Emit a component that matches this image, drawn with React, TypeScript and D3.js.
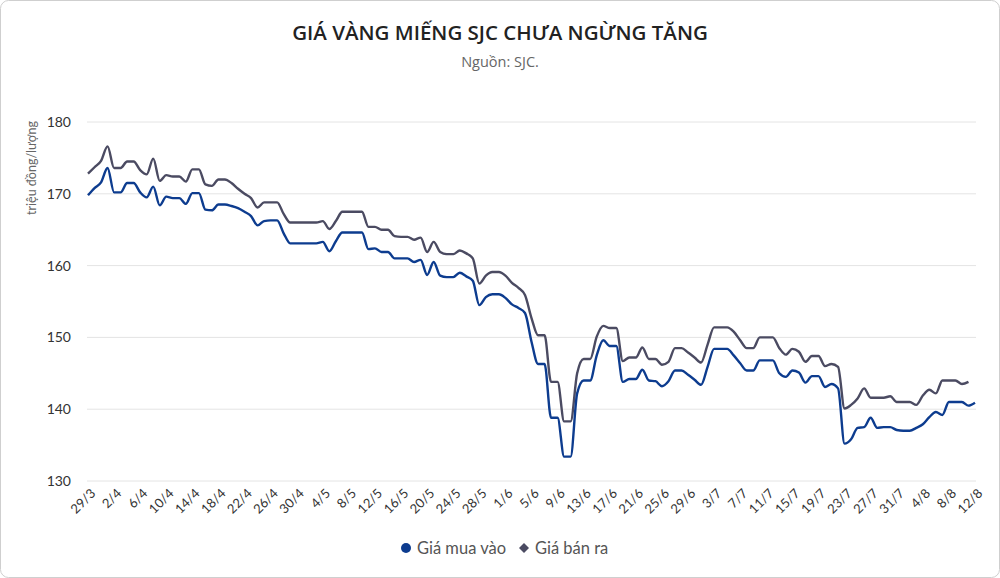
import * as d3 from 'd3';

// daily categories 29/3 → 12/8
const startDay = new Date(2025, 2, 29);
const endDay = new Date(2025, 7, 13);
const days = d3.timeDay.range(startDay, endDay).map((d) => `${d.getDate()}/${d.getMonth() + 1}`);

const tickLabels = [
  '29/3', '2/4', '6/4', '10/4', '14/4', '18/4', '22/4', '26/4', '30/4', '4/5', '8/5', '12/5',
  '16/5', '20/5', '24/5', '28/5', '1/6', '5/6', '9/6', '13/6', '17/6', '21/6', '25/6', '29/6',
  '3/7', '7/7', '11/7', '15/7', '19/7', '23/7', '27/7', '31/7', '4/8', '8/8', '12/8',
];

const yTicks = [130, 140, 150, 160, 170, 180];

// Giá mua vào (triệu đồng/lượng)
const buyPrices = [
  169.8, 170.8, 171.6, 173.6, 170.2, 170.2, 171.5, 171.5, 170.2, 169.5,
  171.0, 168.4, 169.6, 169.4, 169.4, 168.6, 170.1, 170.1, 167.8, 167.7,
  168.5, 168.5, 168.3, 168.0, 167.5, 166.9, 165.6, 166.2, 166.3, 166.3,
  164.5, 163.1, 163.1, 163.1, 163.1, 163.1, 163.3, 162.0, 163.4, 164.6,
  164.6, 164.6, 164.6, 162.3, 162.4, 161.9, 161.9, 161.0, 161.0, 161.0,
  160.5, 160.8, 158.7, 160.5, 158.6, 158.4, 158.4, 159.0, 158.5, 157.9,
  154.5, 155.6, 156.0, 156.0, 155.5, 154.6, 154.1, 153.4, 149.4, 146.3,
  146.3, 138.8, 138.8, 133.4, 133.4, 142.2, 144.0, 144.0, 147.5, 149.6,
  148.8, 148.8, 143.8, 144.2, 144.2, 145.5, 144.0, 143.9, 143.2, 143.9,
  145.4, 145.4, 144.8, 144.1, 143.4, 145.9, 148.4, 148.4, 148.4, 147.5,
  146.4, 145.4, 145.4, 146.8, 146.8, 146.8, 145.0, 144.5, 145.4, 145.1,
  143.7, 144.6, 144.6, 143.1, 143.5, 142.9, 135.2, 135.8, 137.4, 137.5,
  138.8, 137.4, 137.5, 137.5, 137.1, 137.0, 137.0, 137.4, 137.9, 138.9,
  139.6, 139.2, 141.0, 141.0, 141.0, 140.5, 140.9,
];

// Giá bán ra (triệu đồng/lượng)
const sellPrices = [
  172.8, 173.7, 174.6, 176.6, 173.6, 173.6, 174.5, 174.5, 173.3, 172.7,
  174.9, 171.8, 172.6, 172.4, 172.4, 171.7, 173.4, 173.4, 171.3, 171.1,
  172.0, 172.0, 171.5, 170.7, 170.0, 169.4, 168.1, 168.8, 168.8, 168.8,
  167.2, 166.0, 166.0, 166.0, 166.0, 166.0, 166.2, 165.1, 166.2, 167.5,
  167.5, 167.5, 167.5, 165.4, 165.4, 165.0, 165.0, 164.1, 164.0, 164.0,
  163.6, 163.9, 161.9, 163.3, 161.9, 161.6, 161.6, 162.1, 161.7, 161.0,
  157.5, 158.6, 159.1, 159.1, 158.6, 157.6, 156.9, 155.9, 152.7, 150.3,
  150.3, 143.8, 143.8, 138.3, 138.3, 145.0, 147.0, 147.0, 150.1, 151.6,
  151.3, 151.3, 146.7, 147.2, 147.2, 148.6, 147.0, 147.0, 146.2, 146.6,
  148.5, 148.5, 147.9, 147.2, 146.5, 149.0, 151.4, 151.4, 151.4, 150.8,
  149.6, 148.5, 148.5, 150.0, 150.0, 150.0, 148.5, 147.6, 148.4, 148.0,
  146.6, 147.4, 147.4, 146.0, 146.3, 145.9, 140.1, 140.6, 141.5, 142.9,
  141.6, 141.6, 141.6, 141.8, 141.0, 141.0, 141.0, 140.6, 141.9, 142.7,
  142.2, 144.0, 144.0, 144.0, 143.5, 143.8,
];

const BUY_COLOR = '#0d3c8f';
const SELL_COLOR = '#4b4b62';
const FONT = 'Lato, "Noto Sans", sans-serif';

export default function App() {
  const width = 1000;
  const height = 578;
  const plot = { left: 87, right: 976, top: 122, bottom: 481 };

  const x = d3.scalePoint<string>().domain(days).range([88, 975]);
  const y = d3.scaleLinear().domain([130, 180]).range([plot.bottom, plot.top]);

  const line = d3
    .line<number>()
    .x((_, i) => x(days[i]) ?? 0)
    .y((d) => y(d))
    .curve(d3.curveMonotoneX);

  return (
    <svg
      width={width}
      height={height}
      style={{ position: 'absolute', left: 0, top: 0, background: '#fff' }}
      fontFamily={FONT}
    >
      <rect x={0.5} y={0.5} width={width - 1} height={height - 1} rx={8} fill="#fff" stroke="#cfcfcf" />

      <text x={500} y={40} textAnchor="middle" fontFamily='"Open Sans", "Noto Sans", sans-serif' fontWeight={600} fontSize={20.5} fill="#222">
        GIÁ VÀNG MIẾNG SJC CHƯA NGỪNG TĂNG
      </text>
      <text x={500} y={67} textAnchor="middle" fontFamily='"Open Sans", "Noto Sans", sans-serif' fontSize={14.5} fill="#666">
        Nguồn: SJC.
      </text>

      {yTicks.map((t) => (
        <g key={t}>
          <line x1={plot.left} x2={plot.right} y1={y(t)} y2={y(t)} stroke="#e4e4e4" />
          <text x={71} y={y(t)} dy="0.35em" textAnchor="end" fontSize={14} fill="#333">
            {t}
          </text>
        </g>
      ))}

      <text transform="translate(36,168) rotate(-90)" textAnchor="middle" fontSize={12.5} fill="#666">
        triệu đồng/lượng
      </text>

      {tickLabels.map((lab) => (
        <text
          key={lab}
          transform={`translate(${(x(lab) ?? 0) + 5},${plot.bottom + 10}) rotate(-45)`}
          textAnchor="end"
          dy="0.35em"
          fontSize={13}
          fill="#333"
        >
          {lab}
        </text>
      ))}

      <path d={line(sellPrices) ?? ''} fill="none" stroke={SELL_COLOR} strokeWidth={2.4} strokeLinejoin="round" />
      <path d={line(buyPrices) ?? ''} fill="none" stroke={BUY_COLOR} strokeWidth={2.4} strokeLinejoin="round" />

      <g fontSize={16.5} fill="#555">
        <circle cx={406} cy={548} r={5} fill={BUY_COLOR} />
        <text x={417} y={554}>Giá mua vào</text>
        <path d="M524,543 L529,548 L524,553 L519,548 Z" fill={SELL_COLOR} />
        <text x={535} y={554}>Giá bán ra</text>
      </g>
    </svg>
  );
}
